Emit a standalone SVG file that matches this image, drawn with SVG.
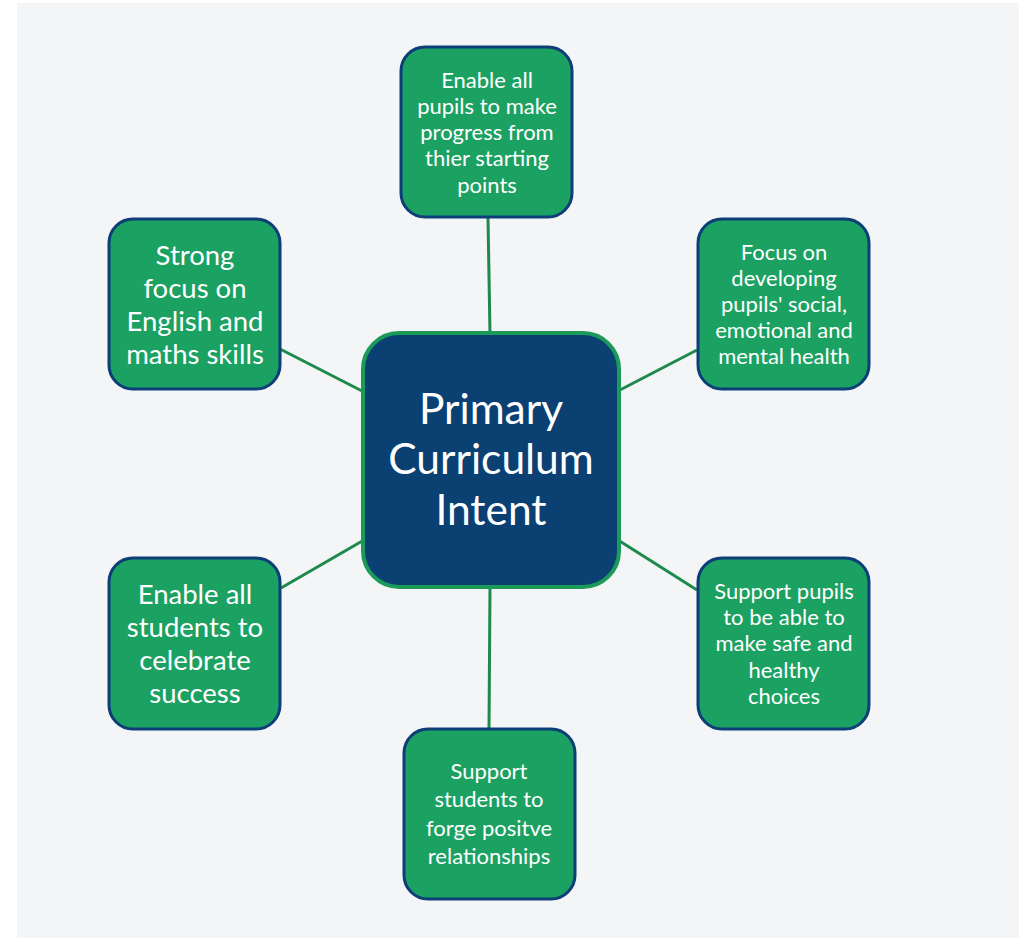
<svg xmlns="http://www.w3.org/2000/svg" width="1019" height="938" viewBox="0 0 1019 938">
<style>
.node rect{fill:#1ba162;stroke:#0d3e78;stroke-width:3}
.node text,.center text{fill:#ffffff;font-family:Lato,"Open Sans","Liberation Sans",sans-serif;text-anchor:middle}
.s{font-size:22px}
.l{font-size:27.5px}
.conn line{stroke:#1d8a4b;stroke-width:3}
</style>
<rect x="0" y="0" width="1019" height="938" fill="#ffffff"/>
<rect x="17" y="3" width="1002" height="935" fill="#f4f5f6"/>
<g id="connectors" class="conn">
<line x1="488" y1="218" x2="490" y2="334"/>
<line x1="280" y1="349" x2="364" y2="392"/>
<line x1="697" y1="350" x2="618" y2="391"/>
<line x1="281" y1="588" x2="364" y2="540"/>
<line x1="618" y1="540" x2="697" y2="590"/>
<line x1="490" y1="586" x2="489" y2="729"/>
</g>
<g id="center" class="center">
<rect x="363" y="333" width="256" height="254" rx="36" fill="#0b4073" stroke="#1c9a5a" stroke-width="4"/>
<text x="491" y="424" font-size="42.5">Primary</text>
<text x="491" y="474" font-size="42.5">Curriculum</text>
<text x="491" y="525" font-size="42.5">Intent</text>
</g>
<g id="n-top" class="node">
<rect x="401" y="47" width="171" height="170" rx="24"/>
<text class="s" x="487" y="88">Enable all</text>
<text class="s" x="487" y="114">pupils to make</text>
<text class="s" x="487" y="140">progress from</text>
<text class="s" x="487" y="166">thier starting</text>
<text class="s" x="487" y="193">points</text>
</g>
<g id="n-righttop" class="node">
<rect x="698" y="219" width="171" height="170" rx="24"/>
<text class="s" x="784" y="260">Focus on</text>
<text class="s" x="784" y="286">developing</text>
<text class="s" x="784" y="312">pupils' social,</text>
<text class="s" x="784" y="338">emotional and</text>
<text class="s" x="784" y="364">mental health</text>
</g>
<g id="n-lefttop" class="node">
<rect x="109" y="219" width="171" height="170" rx="24"/>
<text class="l" x="195" y="265">Strong</text>
<text class="l" x="195" y="298">focus on</text>
<text class="l" x="195" y="331">English and</text>
<text class="l" x="195" y="364">maths skills</text>
</g>
<g id="n-leftbottom" class="node">
<rect x="109" y="558" width="171" height="171" rx="24"/>
<text class="l" x="195" y="604">Enable all</text>
<text class="l" x="195" y="637">students to</text>
<text class="l" x="195" y="670">celebrate</text>
<text class="l" x="195" y="703">success</text>
</g>
<g id="n-rightbottom" class="node">
<rect x="698" y="558" width="171" height="171" rx="24"/>
<text class="s" x="784" y="599">Support pupils</text>
<text class="s" x="784" y="625">to be able to</text>
<text class="s" x="784" y="651">make safe and</text>
<text class="s" x="784" y="678">healthy</text>
<text class="s" x="784" y="704">choices</text>
</g>
<g id="n-bottom" class="node">
<rect x="404" y="729" width="171" height="170" rx="24"/>
<text class="s" x="489" y="779">Support</text>
<text class="s" x="489" y="807">students to</text>
<text class="s" x="489" y="836">forge positve</text>
<text class="s" x="489" y="864">relationships</text>
</g>
</svg>
